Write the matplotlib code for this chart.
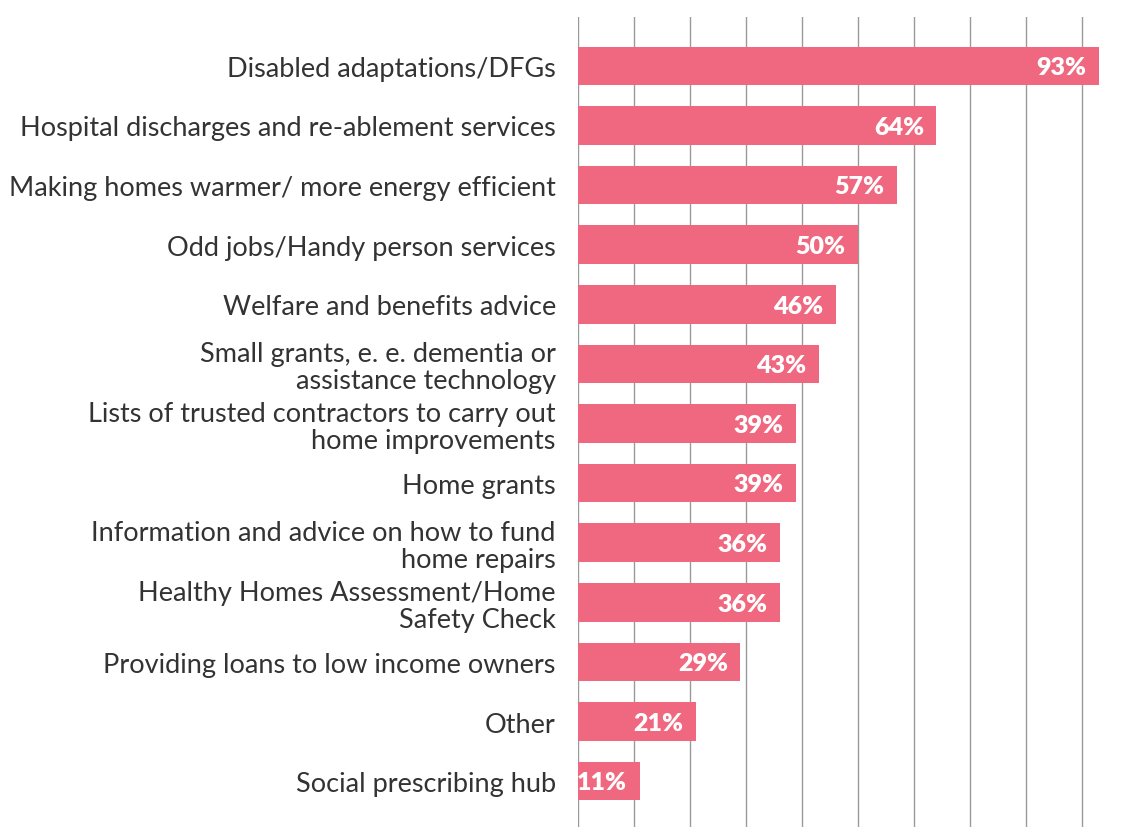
import matplotlib.pyplot as plt

categories = [
    "Disabled adaptations/DFGs",
    "Hospital discharges and re-ablement services",
    "Making homes warmer/ more energy efficient",
    "Odd jobs/Handy person services",
    "Welfare and benefits advice",
    "Small grants, e. e. dementia or\nassistance technology",
    "Lists of trusted contractors to carry out\nhome improvements",
    "Home grants",
    "Information and advice on how to fund\nhome repairs",
    "Healthy Homes Assessment/Home\nSafety Check",
    "Providing loans to low income owners",
    "Other",
    "Social prescribing hub",
]
values = [93, 64, 57, 50, 46, 43, 39, 39, 36, 36, 29, 21, 11]

bar_color = "#F0687F"
text_color = "#333333"

plt.rcParams["font.family"] = ["Lato", "DejaVu Sans"]

fig = plt.figure(figsize=(11.23, 8.28), dpi=100)
ax = fig.add_axes([578 / 1123, 0.0, (1105 - 578) / 1123, 1 - 18 / 828])

y = list(range(len(categories)))
ax.barh(y, values, height=0.65, color=bar_color, zorder=2)

# value labels sit inside the bar end
for yi, v in zip(y, values):
    ax.annotate(f"{v}%", xy=(v, yi), xytext=(-9, -1), textcoords="offset points",
                ha="right", va="center", color="white", fontsize=18,
                fontweight="heavy", zorder=3)

ax.set_xlim(0, (1105 - 578) / 5.6)
ax.set_ylim(len(categories) - 1 + 0.77, -0.82)
ax.set_xticks(range(0, 100, 10))
ax.xaxis.grid(True, color="#999999", linewidth=1.0, zorder=1)
ax.tick_params(axis="x", length=0, labelbottom=False)
ax.set_yticks(y)
ax.set_yticklabels(categories, fontsize=19.5, color=text_color, linespacing=1.1)
ax.tick_params(axis="y", length=0, pad=16)
for s in ax.spines.values():
    s.set_visible(False)

fig.savefig("out.png", dpi=100)
